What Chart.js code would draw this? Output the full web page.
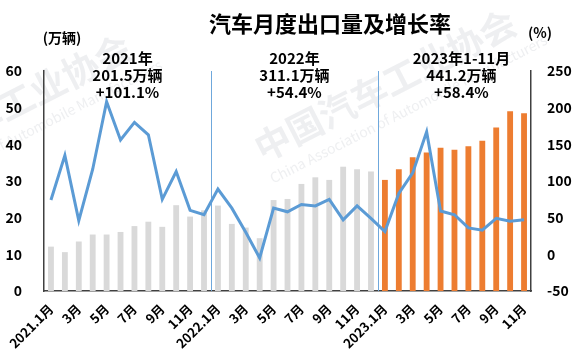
<!DOCTYPE html>
<html>
<head>
<meta charset="utf-8">
<script src="https://cdn.jsdelivr.net/npm/chart.js@4.4.1/dist/chart.umd.min.js"></script>
<style>
    body { margin: 0; background: #fff; }
    #wrap { width: 585px; height: 359px; position: relative; }
</style>
</head>
<body>
<div id="wrap"><canvas id="exportChart"></canvas></div>
<script>
// 汽车月度出口量及增长率 (2021.1 - 2023.11)

const months = [
    '2021.1月', '2月', '3月', '4月', '5月', '6月', '7月', '8月', '9月', '10月', '11月', '12月',
    '2022.1月', '2月', '3月', '4月', '5月', '6月', '7月', '8月', '9月', '10月', '11月', '12月',
    '2023.1月', '2月', '3月', '4月', '5月', '6月', '7月', '8月', '9月', '10月', '11月'
];

// 出口量（万辆）
const exportVolume = [
    12.1, 10.6, 13.5, 15.4, 15.4, 16.1, 17.7, 18.9, 17.5, 23.4, 20.3, 22.0,
    23.3, 18.3, 17.3, 14.4, 24.8, 25.1, 29.2, 31.0, 30.3, 33.9, 33.2, 32.6,
    30.3, 33.2, 36.5, 37.8, 39.1, 38.5, 39.5, 41.0, 44.6, 49.0, 48.5
];

// 同比增长率（%）
const growthRate = [
    74, 135, 46, 116, 208, 156, 180, 163, 75, 113, 60, 54,
    89, 63, 30, -5, 63, 58, 68, 66, 75, 47, 66, 49,
    31, 83, 111, 167, 59, 54, 36, 33, 49, 45, 47
];

// 年度汇总
const yearNotes = [
    { lines: ['2021年', '201.5万辆', '+101.1%'], at: 5.5 },
    { lines: ['2022年', '311.1万辆', '+54.4%'], at: 17.5 },
    { lines: ['2023年1-11月', '441.2万辆', '+58.4%'], at: 29.5 }
];
const yearBreaks = [11.5, 23.5];

const FONT = "'Noto Sans CJK SC', 'Noto Sans', sans-serif";

const barColors = exportVolume.map((v, i) => i >= 24 ? '#ED7D31' : '#D9D9D9');

// 水印、分隔线、注释
const decorPlugin = {
    id: 'decor',
    beforeDraw(chart) {
        const ctx = chart.ctx;
        ctx.save();
        ctx.fillStyle = 'rgba(205, 208, 215, 0.35)';
        ctx.textAlign = 'center';
        ctx.textBaseline = 'middle';
        const marks = [[385, 85], [0, 110]];
        marks.forEach(([x, y]) => {
            ctx.save();
            ctx.translate(x, y);
            ctx.rotate(-27 * Math.PI / 180);
            ctx.font = 'bold 36px ' + FONT;
            ctx.fillText('中国汽车工业协会', 0, 0);
            ctx.font = '14px ' + FONT;
            ctx.fillText('China Association of Automobile Manufacturers', 10, 32);
            ctx.restore();
        });
        ctx.restore();
    },
    beforeDatasetsDraw(chart) {
        const { ctx, chartArea, scales } = chart;
        ctx.save();
        ctx.strokeStyle = '#6FA8DC';
        ctx.lineWidth = 1;
        yearBreaks.forEach(b => {
            const x = Math.round(scales.x.getPixelForValue(b)) + 0.5;
            ctx.beginPath();
            ctx.moveTo(x, chartArea.top);
            ctx.lineTo(x, chartArea.bottom);
            ctx.stroke();
        });
        ctx.restore();
    },
    afterDatasetsDraw(chart) {
        const { ctx, chartArea, scales } = chart;
        ctx.save();
        ctx.fillStyle = '#000';
        ctx.textAlign = 'center';
        ctx.textBaseline = 'middle';
        ctx.font = 'bold 15px ' + FONT;
        yearNotes.forEach(note => {
            const x = scales.x.getPixelForValue(note.at);
            note.lines.forEach((t, i) => {
                ctx.fillText(t, x, chartArea.top - 13 + i * 17);
            });
        });

        // 标题和单位
        ctx.font = 'bold 22px ' + FONT;
        ctx.fillText('汽车月度出口量及增长率', 330, 24);
        ctx.font = 'bold 14px ' + FONT;
        ctx.fillText('(万辆)', 62, 38);
        ctx.fillText('(%)', 540, 33);
        ctx.restore();
    }
};

const ctx = document.getElementById('exportChart');

new Chart(ctx, {
    data: {
        labels: months,
        datasets: [
            {
                type: 'line',
                label: '增长率',
                data: growthRate,
                yAxisID: 'y1',
                borderColor: '#5B9BD5',
                borderWidth: 3,
                pointRadius: 0,
                tension: 0,
                order: 0
            },
            {
                type: 'bar',
                label: '出口量',
                data: exportVolume,
                yAxisID: 'y',
                backgroundColor: barColors,
                barPercentage: 0.42,
                categoryPercentage: 1,
                order: 1
            }
        ]
    },
    options: {
        responsive: true,
        maintainAspectRatio: false,
        animation: false,
        layout: { padding: { top: 71, left: 0, right: 0, bottom: 0 } },
        plugins: {
            legend: { display: false },
            tooltip: { enabled: false }
        },
        scales: {
            x: {
                offset: true,
                grid: { display: false },
                border: { color: '#404040', width: 1.5 },
                afterFit: s => { s.height = 68; },
                ticks: {
                    autoSkip: false,
                    maxRotation: 45,
                    minRotation: 45,
                    padding: 2,
                    color: '#000',
                    font: { family: FONT, size: 13, weight: 'bold' },
                    callback: (v, i) => i % 2 === 0 ? months[i] : ''
                }
            },
            y: {
                position: 'left',
                min: 0,
                max: 60,
                grid: { display: false },
                border: { color: '#404040', width: 1.5 },
                afterFit: s => { s.width = 44; },
                ticks: {
                    stepSize: 10,
                    padding: 14,
                    color: '#000',
                    font: { family: FONT, size: 14, weight: 'bold' }
                }
            },
            y1: {
                position: 'right',
                min: -50,
                max: 250,
                grid: { display: false },
                border: { color: '#404040', width: 1.5 },
                afterFit: s => { s.width = 54; },
                ticks: {
                    stepSize: 50,
                    padding: 8,
                    color: '#000',
                    font: { family: FONT, size: 14, weight: 'bold' }
                }
            }
        }
    },
    plugins: [decorPlugin]
});
</script>
</body>
</html>
